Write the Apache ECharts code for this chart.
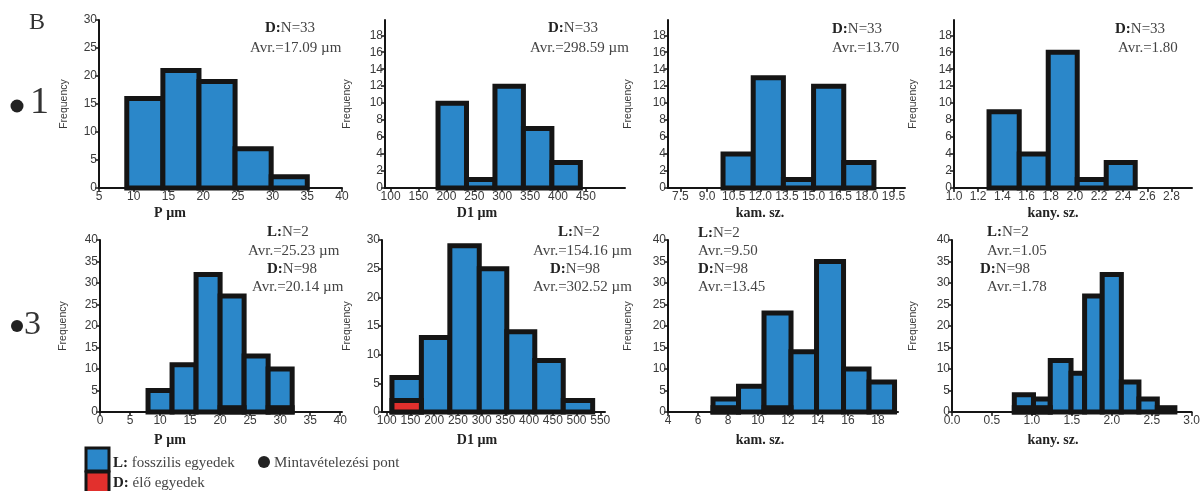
<!DOCTYPE html>
<html>
<head>
<meta charset="utf-8">
<style>
html, body { margin: 0; padding: 0; background: #fff; }
#container { width: 1203px; height: 491px; }
</style>
<script src="https://cdn.jsdelivr.net/npm/echarts@6/dist/echarts.min.js"></script>
</head>
<body>
<div id="container"></div>
<script>
var dom = document.getElementById('container');
var myChart = echarts.init(dom);

// ---- data ----
// row 1 (site 1), only blue bars
var pEdges1 = [9, 14.2, 19.4, 24.6, 29.8, 35];
var pBlue1 = [16, 21, 19, 7, 2];
var d1Edges1 = [185, 236, 287, 338, 389, 440];
var d1Blue1 = [10, 1, 12, 7, 3];
var kamEdges1 = [9.9, 11.6, 13.3, 15.0, 16.7, 18.4];
var kamBlue1 = [4, 13, 1, 12, 3];
var kanyEdges1 = [1.29, 1.54, 1.78, 2.02, 2.26, 2.50];
var kanyBlue1 = [9, 4, 16, 1, 3];

// row 2 (site 3), blue + red bars
var pEdges3 = [8, 12, 16, 20, 24, 28, 32];
var pBlue3 = [5, 11, 32, 27, 13, 10];
var pRed3 = [0, 0, 0, 1, 0, 1];
var d1Edges3 = [111, 173, 233, 295, 353, 412, 472, 534];
var d1Blue3 = [6, 13, 29, 25, 14, 9, 2];
var d1Red3 = [2, 0, 0, 0, 0, 0, 0];
var kamEdges3 = [7.0, 8.7, 10.4, 12.2, 13.9, 15.7, 17.4, 19.1];
var kamBlue3 = [3, 6, 23, 14, 35, 10, 7];
var kamRed3 = [1, 0, 1, 0, 0, 0, 0];
var kanyEdges3 = [0.78, 1.02, 1.23, 1.49, 1.66, 1.88, 2.12, 2.34, 2.57, 2.79];
var kanyBlue3 = [4, 3, 12, 9, 27, 32, 7, 3, 1];
var kanyRed3 = [1, 1, 0, 0, 0, 0, 0, 0, 0];

// tick labels
var xTicksP1 = [5, 10, 15, 20, 25, 30, 35, 40];
var xTicksD11 = [100, 150, 200, 250, 300, 350, 400, 450];
var xTicksKam1 = [7.5, 9.0, 10.5, 12.0, 13.5, 15.0, 16.5, 18.0, 19.5];
var xTicksKany1 = [1.0, 1.2, 1.4, 1.6, 1.8, 2.0, 2.2, 2.4, 2.6, 2.8];
var xTicksP3 = [0, 5, 10, 15, 20, 25, 30, 35, 40];
var xTicksD13 = [100, 150, 200, 250, 300, 350, 400, 450, 500, 550];
var xTicksKam3 = [4, 6, 8, 10, 12, 14, 16, 18];
var xTicksKany3 = [0.0, 0.5, 1.0, 1.5, 2.0, 2.5, 3.0];
var yTicks30 = [0, 5, 10, 15, 20, 25, 30];
var yTicks18 = [0, 2, 4, 6, 8, 10, 12, 14, 16, 18];
var yTicks40 = [0, 5, 10, 15, 20, 25, 30, 35, 40];

var axisNames = ['P µm', 'D1 µm', 'kam. sz.', 'kany. sz.'];

// ---- panels: grid box + axis range ----
var panels = [
    { left: 99,  top: 20,  width: 243, height: 168, xMin: 5,   xMax: 40,    yMax: 30,   xTicks: xTicksP1,    yTicks: yTicks30, dec: 0, gap: 29, edges: pEdges1,    blue: pBlue1,    red: null },
    { left: 385, top: 20,  width: 240, height: 168, xMin: 90,  xMax: 520,   yMax: 19.8, xTicks: xTicksD11,   yTicks: yTicks18, dec: 0, gap: 32, edges: d1Edges1,   blue: d1Blue1,   red: null },
    { left: 668, top: 20,  width: 237, height: 168, xMin: 6.8, xMax: 20.15, yMax: 19.8, xTicks: xTicksKam1,  yTicks: yTicks18, dec: 1, gap: 34, edges: kamEdges1,  blue: kamBlue1,  red: null },
    { left: 954, top: 20,  width: 238, height: 168, xMin: 1.0, xMax: 2.97,  yMax: 19.8, xTicks: xTicksKany1, yTicks: yTicks18, dec: 1, gap: 35, edges: kanyEdges1, blue: kanyBlue1, red: null },
    { left: 100, top: 240, width: 242, height: 172, xMin: 0,   xMax: 40.3,  yMax: 40,   xTicks: xTicksP3,    yTicks: yTicks40, dec: 0, gap: 31, edges: pEdges3,    blue: pBlue3,    red: pRed3 },
    { left: 382, top: 240, width: 223, height: 172, xMin: 90,  xMax: 560,   yMax: 30,   xTicks: xTicksD13,   yTicks: yTicks30, dec: 0, gap: 29, edges: d1Edges3,   blue: d1Blue3,   red: d1Red3 },
    { left: 668, top: 240, width: 230, height: 172, xMin: 4,   xMax: 19.33, yMax: 40,   xTicks: xTicksKam3,  yTicks: yTicks40, dec: 0, gap: 34, edges: kamEdges3,  blue: kamBlue3,  red: kamRed3 },
    { left: 952, top: 240, width: 243, height: 172, xMin: 0,   xMax: 3.0,   yMax: 40,   xTicks: xTicksKany3, yTicks: yTicks40, dec: 1, gap: 33, edges: kanyEdges3, blue: kanyBlue3, red: kanyRed3 }
];

var BLUE = '#2b87c9';
var RED = '#e2302d';
var LABEL_FONT = 'Liberation Sans';
var SERIF = 'Liberation Serif';

function toBins(edges, counts) {
    var out = [];
    for (var i = 0; i < counts.length; i++) {
        if (counts[i] > 0) out.push([edges[i], edges[i + 1], counts[i]]);
    }
    return out;
}

function histRender(color) {
    return function (params, api) {
        var p0 = api.coord([api.value(0), api.value(2)]);
        var p1 = api.coord([api.value(1), 0]);
        return {
            type: 'rect',
            shape: { x: p0[0], y: p0[1], width: p1[0] - p0[0], height: p1[1] - p0[1] },
            style: { fill: color, stroke: '#151515', lineWidth: 5 }
        };
    };
}

var grids = [], xAxes = [], yAxes = [], series = [];
panels.forEach(function (p, i) {
    grids.push({ left: p.left, top: p.top, width: p.width, height: p.height });
    xAxes.push({
        type: 'value', gridIndex: i, min: p.xMin, max: p.xMax,
        splitLine: { show: false },
        axisLine: { onZero: false, lineStyle: { color: '#151515', width: 2 } },
        axisTick: { length: 4, customValues: p.xTicks, lineStyle: { color: '#151515', width: 1.5 } },
        axisLabel: {
            customValues: p.xTicks, margin: 3, color: '#3a3a3a', fontSize: 12, fontFamily: LABEL_FONT,
            formatter: (function (d) { return function (v) { return v.toFixed(d); }; })(p.dec)
        }
    });
    yAxes.push({
        type: 'value', gridIndex: i, min: 0, max: p.yMax,
        name: 'Frequency', nameLocation: 'middle', nameGap: p.gap,
        nameTextStyle: { color: '#3a3a3a', fontSize: 10.5, fontFamily: LABEL_FONT },
        splitLine: { show: false },
        axisLine: { show: true, lineStyle: { color: '#151515', width: 2 } },
        axisTick: { show: true, length: 4, customValues: p.yTicks, lineStyle: { color: '#151515', width: 1.5 } },
        axisLabel: { customValues: p.yTicks, margin: 2, color: '#3a3a3a', fontSize: 12, fontFamily: LABEL_FONT }
    });
    series.push({
        type: 'custom', xAxisIndex: i, yAxisIndex: i, renderItem: histRender(BLUE),
        encode: { x: [0, 1], y: 2 }, data: toBins(p.edges, p.blue), z: 2
    });
    if (p.red) {
        series.push({
            type: 'custom', xAxisIndex: i, yAxisIndex: i, renderItem: histRender(RED),
            encode: { x: [0, 1], y: 2 }, data: toBins(p.edges, p.red), z: 3
        });
    }
});

// ---- annotations ----
// [x, y, bold part, normal part]
var notes = [
    [265, 28, 'D:', 'N=33'], [250, 48, '', 'Avr.=17.09 µm'],
    [548, 28, 'D:', 'N=33'], [530, 48, '', 'Avr.=298.59 µm'],
    [832, 29, 'D:', 'N=33'], [832, 48, '', 'Avr.=13.70'],
    [1115, 29, 'D:', 'N=33'], [1118, 48, '', 'Avr.=1.80'],
    [267, 232, 'L:', 'N=2'], [248, 251, '', 'Avr.=25.23 µm'], [267, 269, 'D:', 'N=98'], [252, 287, '', 'Avr.=20.14 µm'],
    [558, 232, 'L:', 'N=2'], [533, 251, '', 'Avr.=154.16 µm'], [550, 269, 'D:', 'N=98'], [533, 287, '', 'Avr.=302.52 µm'],
    [698, 233, 'L:', 'N=2'], [698, 251, '', 'Avr.=9.50'], [698, 269, 'D:', 'N=98'], [698, 287, '', 'Avr.=13.45'],
    [987, 232, 'L:', 'N=2'], [987, 251, '', 'Avr.=1.05'], [980, 269, 'D:', 'N=98'], [987, 287, '', 'Avr.=1.78']
];
var nameX = [170, 477, 760, 1053];

var graphics = [];
notes.forEach(function (n) {
    graphics.push({
        type: 'text', x: n[0], y: n[1],
        style: {
            text: (n[2] ? '{b|' + n[2] + '}' : '') + '{n|' + n[3] + '}',
            verticalAlign: 'middle', align: 'left',
            rich: {
                b: { fontFamily: SERIF, fontSize: 15, fontWeight: 'bold', fill: '#222' },
                n: { fontFamily: SERIF, fontSize: 15, fill: '#444' }
            }
        }
    });
});
[213, 440].forEach(function (y) {
    axisNames.forEach(function (t, i) {
        graphics.push({
            type: 'text', x: nameX[i], y: y,
            style: { text: t, fontFamily: SERIF, fontSize: 14, fontWeight: 'bold', fill: '#222', align: 'center', verticalAlign: 'middle' }
        });
    });
});
// panel letter and site marks
graphics.push({ type: 'text', x: 29, y: 23, style: { text: 'B', fontFamily: SERIF, fontSize: 24, fill: '#333', verticalAlign: 'middle' } });
graphics.push({ type: 'circle', shape: { cx: 17, cy: 106, r: 6.5 }, style: { fill: '#222' } });
graphics.push({ type: 'text', x: 30, y: 103, style: { text: '1', fontFamily: SERIF, fontSize: 38, fill: '#333', verticalAlign: 'middle' } });
graphics.push({ type: 'circle', shape: { cx: 17, cy: 326, r: 6 }, style: { fill: '#222' } });
graphics.push({ type: 'text', x: 24, y: 325, style: { text: '3', fontFamily: SERIF, fontSize: 34, fill: '#333', verticalAlign: 'middle' } });

// legend at the bottom
graphics.push({ type: 'rect', shape: { x: 86, y: 448, width: 23, height: 23 }, style: { fill: BLUE, stroke: '#151515', lineWidth: 3 } });
graphics.push({ type: 'rect', shape: { x: 86, y: 472, width: 23, height: 23 }, style: { fill: RED, stroke: '#151515', lineWidth: 3 } });
graphics.push({
    type: 'text', x: 113, y: 463,
    style: { text: '{b|L:}{n| fosszilis egyedek}', verticalAlign: 'middle',
        rich: { b: { fontFamily: SERIF, fontSize: 15, fontWeight: 'bold', fill: '#222' }, n: { fontFamily: SERIF, fontSize: 15, fill: '#444' } } }
});
graphics.push({ type: 'circle', shape: { cx: 264, cy: 462, r: 6 }, style: { fill: '#222' } });
graphics.push({ type: 'text', x: 274, y: 463, style: { text: 'Mintavételezési pont', fontFamily: SERIF, fontSize: 15, fill: '#444', verticalAlign: 'middle' } });
graphics.push({
    type: 'text', x: 113, y: 483,
    style: { text: '{b|D:}{n| élő egyedek}', verticalAlign: 'middle',
        rich: { b: { fontFamily: SERIF, fontSize: 15, fontWeight: 'bold', fill: '#222' }, n: { fontFamily: SERIF, fontSize: 15, fill: '#444' } } }
});

option = {
    backgroundColor: '#fff',
    animation: false,
    grid: grids,
    xAxis: xAxes,
    yAxis: yAxes,
    series: series,
    graphic: graphics
};
myChart.setOption(option);

window.addEventListener('resize', function () {
    myChart.resize();
});
</script>
</body>
</html>
